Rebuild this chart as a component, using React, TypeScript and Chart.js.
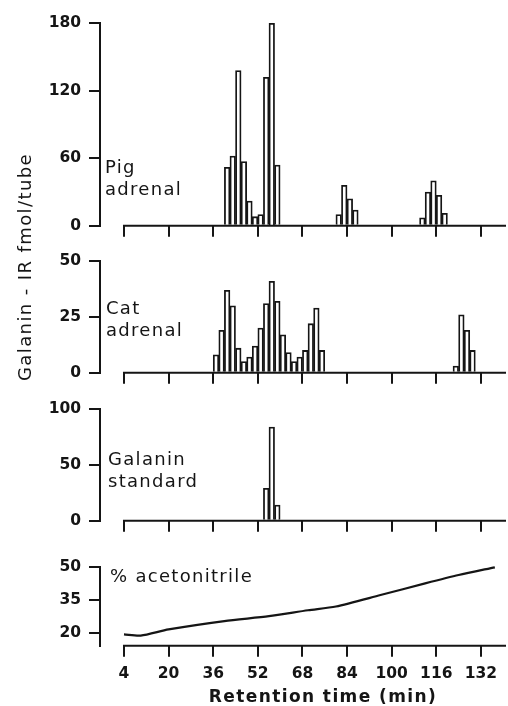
import React, { useEffect, useRef } from "react";
import { Chart, registerables } from "chart.js";

Chart.register(...registerables);

// ---------- data ----------
const xTicks = [4, 20, 36, 52, 68, 84, 100, 116, 132];

// fraction centres (min) – 2-min fractions
const pigTimes = [41, 43, 45, 47, 49, 51, 53, 55, 57, 59, 81, 83, 85, 87, 111, 113, 115, 117, 119];
const pigValues = [52, 62, 138, 57, 22, 8, 10, 132, 180, 54, 10, 36, 24, 14, 7, 30, 40, 27, 11];
const pigTicks = [0, 60, 120, 180];

const catTimes = [37, 39, 41, 43, 45, 47, 49, 51, 53, 55, 57, 59, 61, 63, 65, 67, 69, 71, 73, 75, 123, 125, 127, 129];
const catValues = [8, 19, 37, 30, 11, 5, 7, 12, 20, 31, 41, 32, 17, 9, 5, 7, 10, 22, 29, 10, 3, 26, 19, 10];
const catTicks = [0, 25, 50];

const stdTimes = [55, 57, 59];
const stdValues = [29, 84, 14];
const stdTicks = [0, 50, 100];

const acnTimes = [4, 10, 20, 40, 56, 70, 80, 96, 112, 124, 137];
const acnValues = [19.5, 19, 21.8, 25.6, 27.8, 30.5, 32.2, 37.4, 42.7, 46.5, 50];
const acnTicks = [20, 35, 50];

// ---------- style / layout ----------
const INK = "#151515";
const FONT = "'DejaVu Sans', 'Liberation Sans', sans-serif";
const X_MIN = -4.6;
const X_MAX = 141;
const Y_AXIS_X = 100;

type PanelProps = {
  kind: "bar" | "line";
  times: number[];
  values: number[];
  yMin: number;
  yMax: number;
  yTicks: number[];
  areaTop: number;
  areaBottom: number;
  showXLabels: boolean;
};

const baselinePlugin = {
  id: "baseline",
  afterDatasetsDraw(chart: any) {
    const { ctx, chartArea, scales } = chart;
    const x0 = scales.x.getPixelForValue(xTicks[0]);
    ctx.save();
    ctx.strokeStyle = INK;
    ctx.lineWidth = 2;
    ctx.beginPath();
    ctx.moveTo(x0 - 1, chartArea.bottom);
    ctx.lineTo(chartArea.right, chartArea.bottom);
    ctx.stroke();
    ctx.restore();
  },
};

function Panel(p: PanelProps) {
  const ref = useRef<HTMLCanvasElement | null>(null);
  const padTop = 16;
  const canvasTop = Math.floor(p.areaTop) - padTop;
  const extra = p.showXLabels ? 44 : 16;
  const canvasH = Math.ceil(p.areaBottom) + extra - canvasTop;
  const topPad = p.areaTop - canvasTop;
  const xAxisH = canvasH - topPad - (p.areaBottom - p.areaTop);

  useEffect(() => {
    if (!ref.current) return;
    const data = p.times.map((t, i) => ({ x: t, y: p.values[i] }));
    const dataset: any =
      p.kind === "bar"
        ? {
            type: "bar",
            data,
            backgroundColor: "#ffffff",
            borderColor: INK,
            borderWidth: 1.8,
            borderSkipped: "start",
            barPercentage: 1,
            categoryPercentage: 1,
            clip: false,
          }
        : {
            type: "line",
            data,
            borderColor: INK,
            borderWidth: 2.2,
            pointRadius: 0,
            tension: 0.25,
            fill: false,
            clip: false,
          };
    const chart = new Chart(ref.current, {
      type: p.kind,
      data: { datasets: [dataset] },
      options: {
        responsive: false,
        animation: false,
        events: [],
        layout: { padding: { top: topPad, left: 0, right: 2, bottom: 0 } },
        plugins: { legend: { display: false }, tooltip: { enabled: false } },
        scales: {
          x: {
            type: "linear",
            min: X_MIN,
            max: X_MAX,
            offset: false,
            border: { display: false },
            grid: {
              display: true,
              offset: false,
              drawOnChartArea: false,
              drawTicks: true,
              tickLength: 11,
              color: INK,
              lineWidth: 2,
            },
            ticks: {
              display: p.showXLabels,
              color: INK,
              padding: 8,
              maxRotation: 0,
              autoSkip: false,
              font: { family: FONT, size: 15.5, weight: "bold" },
            },
            afterBuildTicks: (s: any) => {
              s.ticks = xTicks.map((v) => ({ value: v }));
            },
            afterFit: (s: any) => {
              s.height = xAxisH;
            },
          },
          y: {
            type: "linear",
            min: p.yMin,
            max: p.yMax,
            border: { display: true, color: INK, width: 2 },
            grid: {
              display: true,
              drawOnChartArea: false,
              drawTicks: true,
              tickLength: 11,
              color: INK,
              lineWidth: 2,
            },
            ticks: {
              color: INK,
              padding: 8,
              autoSkip: false,
              font: { family: FONT, size: 15.5, weight: "bold" },
            },
            afterBuildTicks: (s: any) => {
              s.ticks = p.yTicks.map((v) => ({ value: v }));
            },
            afterFit: (s: any) => {
              s.width = Y_AXIS_X;
            },
          },
        },
      } as any,
      plugins: [baselinePlugin],
    });
    return () => chart.destroy();
  }, []);

  return (
    <canvas
      ref={ref}
      width={508}
      height={canvasH}
      style={{ position: "absolute", left: 0, top: canvasTop, width: 508, height: canvasH }}
    />
  );
}

const labelStyle: React.CSSProperties = {
  position: "absolute",
  fontFamily: FONT,
  fontSize: 18,
  lineHeight: "22px",
  letterSpacing: 1.3,
  color: INK,
  whiteSpace: "pre",
};

export default function App() {
  return (
    <div
      style={{
        position: "absolute",
        left: 0,
        top: 0,
        width: 508,
        height: 706,
        background: "#ffffff",
        overflow: "hidden",
      }}
    >
      <Panel kind="bar" times={pigTimes} values={pigValues} yMin={0} yMax={180} yTicks={pigTicks} areaTop={22.7} areaBottom={226.7} showXLabels={false} />
      <Panel kind="bar" times={catTimes} values={catValues} yMin={0} yMax={50} yTicks={catTicks} areaTop={260.7} areaBottom={374} showXLabels={false} />
      <Panel kind="bar" times={stdTimes} values={stdValues} yMin={0} yMax={100} yTicks={stdTicks} areaTop={408.3} areaBottom={521.7} showXLabels={false} />
      <Panel kind="line" times={acnTimes} values={acnValues} yMin={14.4} yMax={50} yTicks={acnTicks} areaTop={566.7} areaBottom={645.7} showXLabels={true} />

      <div style={{ ...labelStyle, left: 105, top: 155.8 }}>{"Pig\nadrenal"}</div>
      <div style={{ ...labelStyle, left: 106, top: 296.8 }}>{"Cat\nadrenal"}</div>
      <div style={{ ...labelStyle, left: 108, top: 447.8 }}>{"Galanin\nstandard"}</div>
      <div style={{ ...labelStyle, left: 110, top: 564.5 }}>{"% acetonitrile"}</div>

      <div
        style={{
          ...labelStyle,
          left: 25 - 150,
          top: 267 - 11,
          width: 300,
          textAlign: "center",
          letterSpacing: 1.4,
          transform: "rotate(-90deg)",
          transformOrigin: "50% 50%",
        }}
      >
        {"Galanin - IR fmol/tube"}
      </div>

      <div
        style={{
          ...labelStyle,
          fontSize: 17,
          lineHeight: "20px",
          fontWeight: "bold",
          letterSpacing: 1.4,
          left: 323 - 150,
          top: 686,
          width: 300,
          textAlign: "center",
        }}
      >
        {"Retention time (min)"}
      </div>
    </div>
  );
}
